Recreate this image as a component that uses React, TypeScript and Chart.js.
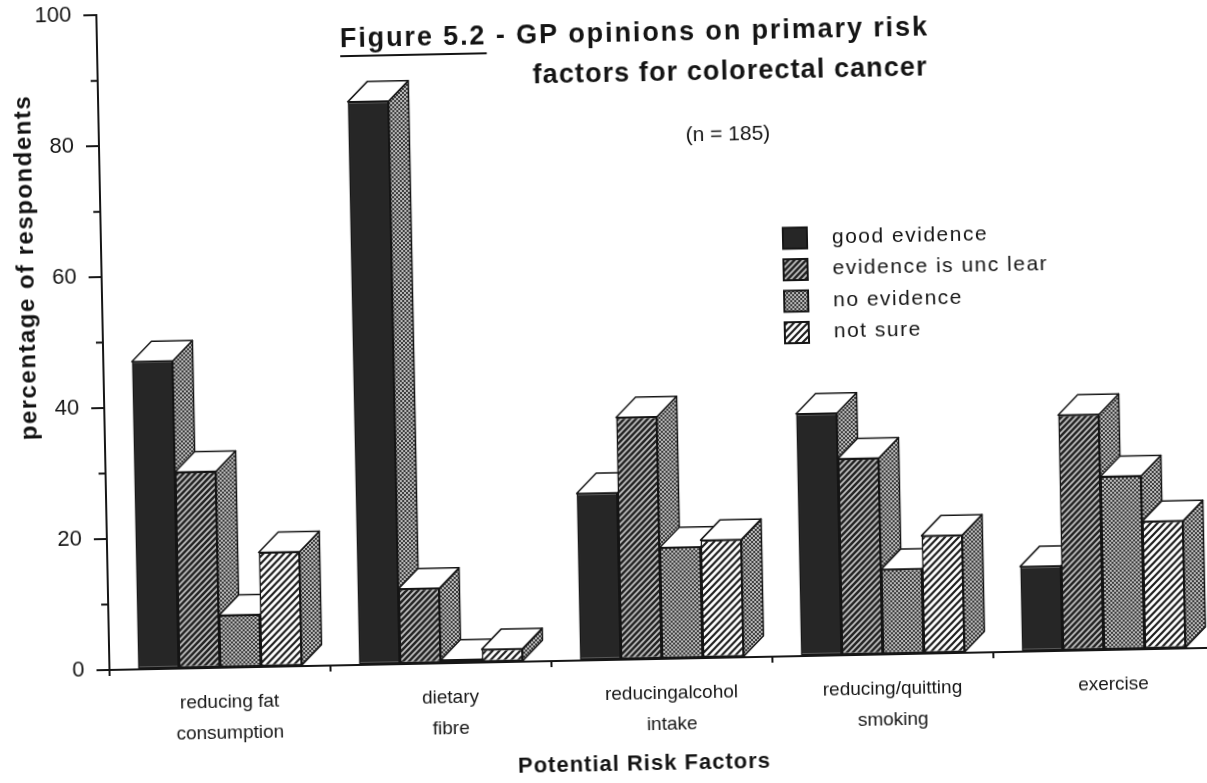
import React, { useEffect, useRef } from 'react';
import { Chart, registerables } from 'chart.js';

Chart.register(...registerables);

// ---------- data ----------
const CATEGORIES = [
  ['reducing fat', 'consumption'],
  ['dietary', 'fibre'],
  ['reducingalcohol', 'intake'],
  ['reducing/quitting', 'smoking'],
  ['exercise'],
];
const SERIES_NAMES = ['good evidence', 'evidence is unc lear', 'no evidence', 'not sure'];
const GOOD_EVIDENCE = [47, 86, 25.5, 37, 13];
const EVIDENCE_UNCLEAR = [30, 11.5, 37, 30, 36];
const NO_EVIDENCE = [8, 0.5, 17, 13, 26.5];
const NOT_SURE = [17.5, 2, 18, 18, 19.5];
const Y_MIN = 0;
const Y_MAX = 100;
const Y_STEP = 20;
const MINOR_TICKS = [10, 30, 50, 70, 90];
const TITLE_UNDERLINED = 'Figure 5.2';
const TITLE_LINE_1 = 'Figure 5.2 - GP opinions on primary risk';
const TITLE_LINE_2 = 'factors for colorectal cancer';
const SUBTITLE = '(n = 185)';
const X_TITLE = 'Potential Risk Factors';
const Y_TITLE = 'percentage of respondents';

// ---------- styles ----------
const FONT = "'Liberation Sans', Arial, Helvetica, sans-serif";
const INK = '#161616';
const DX = 20;
const DY = 20;
const W = 1247;
const H = 823;

function makePattern(kind: string): CanvasPattern | string {
  const c = document.createElement('canvas');
  const g = c.getContext('2d') as CanvasRenderingContext2D;
  if (kind === 'checker') {
    c.width = 4; c.height = 4;
    g.fillStyle = '#b8b8b8'; g.fillRect(0, 0, 4, 4);
    g.fillStyle = '#3e3e3e';
    g.fillRect(0, 0, 2, 2); g.fillRect(2, 2, 2, 2);
  } else if (kind === 'hatchDark') {
    const s = 6; c.width = s; c.height = s;
    g.fillStyle = '#242424'; g.fillRect(0, 0, s, s);
    g.strokeStyle = '#c2c2c2'; g.lineWidth = 1.7;
    g.beginPath();
    g.moveTo(-1, 1); g.lineTo(1, -1);
    g.moveTo(0, s); g.lineTo(s, 0);
    g.moveTo(s - 1, s + 1); g.lineTo(s + 1, s - 1);
    g.stroke();
  } else if (kind === 'hatchLight') {
    const s = 7; c.width = s; c.height = s;
    g.fillStyle = '#ffffff'; g.fillRect(0, 0, s, s);
    g.strokeStyle = '#1e1e1e'; g.lineWidth = 2.2;
    g.beginPath();
    g.moveTo(-1, 1); g.lineTo(1, -1);
    g.moveTo(0, s); g.lineTo(s, 0);
    g.moveTo(s - 1, s + 1); g.lineTo(s + 1, s - 1);
    g.stroke();
  } else {
    return '#262626';
  }
  const p = g.createPattern(c, 'repeat');
  return p || '#888';
}

export default function App() {
  const ref = useRef<HTMLCanvasElement>(null);

  useEffect(() => {
    const canvas = ref.current as HTMLCanvasElement;
    const fills = [
      makePattern('solid'),
      makePattern('hatchDark'),
      makePattern('checker'),
      makePattern('hatchLight'),
    ];
    const sideFill = makePattern('checker');

    const depthPlugin = {
      id: 'depth3d',
      beforeDatasetsDraw(chart: any) {
        const ctx = chart.ctx as CanvasRenderingContext2D;
        const n = chart.data.labels.length;
        ctx.save();
        ctx.lineWidth = 1.5;
        ctx.strokeStyle = INK;
        ctx.lineJoin = 'round';
        for (let i = 0; i < n; i++) {
          for (let d = 0; d < chart.data.datasets.length; d++) {
            const el = chart.getDatasetMeta(d).data[i];
            const { x, y, base, width } = el.getProps(['x', 'y', 'base', 'width'], true);
            const l = x - width / 2;
            const r = x + width / 2;
            // side face
            ctx.beginPath();
            ctx.moveTo(r, y);
            ctx.lineTo(r + DX, y - DY);
            ctx.lineTo(r + DX, base - DY);
            ctx.lineTo(r, base);
            ctx.closePath();
            ctx.fillStyle = sideFill as any;
            ctx.fill();
            ctx.stroke();
            // top face
            ctx.beginPath();
            ctx.moveTo(l, y);
            ctx.lineTo(l + DX, y - DY);
            ctx.lineTo(r + DX, y - DY);
            ctx.lineTo(r, y);
            ctx.closePath();
            ctx.fillStyle = '#ffffff';
            ctx.fill();
            ctx.stroke();
          }
        }
        ctx.restore();
      },
    };

    const textPlugin = {
      id: 'texts',
      afterDraw(chart: any) {
        const ctx = chart.ctx as CanvasRenderingContext2D;
        const ys = chart.scales.y;
        const area = chart.chartArea;
        ctx.save();
        // minor ticks
        ctx.strokeStyle = INK;
        ctx.lineWidth = 2;
        ctx.beginPath();
        MINOR_TICKS.forEach((v) => {
          const py = ys.getPixelForValue(v);
          ctx.moveTo(area.left - 7, py);
          ctx.lineTo(area.left, py);
        });
        ctx.stroke();

        ctx.fillStyle = '#141414';
        ctx.textBaseline = 'middle';
        // title
        ctx.textAlign = 'left';
        ctx.font = `bold 27px ${FONT}`;
        (ctx as any).letterSpacing = '1.9px';
        const t1x = 367;
        const t1y = 55;
        ctx.fillText(TITLE_LINE_1, t1x, t1y);
        const uw = ctx.measureText(TITLE_UNDERLINED).width;
        ctx.fillRect(t1x, t1y + 15, uw, 2);
        (ctx as any).letterSpacing = '1.1px';
        ctx.fillText(TITLE_LINE_2, 559, 95);

        // subtitle
        ctx.font = `21px ${FONT}`;
        (ctx as any).letterSpacing = '0px';
        ctx.textAlign = 'center';
        ctx.fillText(SUBTITLE, 753, 157);

        // legend
        ctx.textAlign = 'left';
        ctx.font = `21px ${FONT}`;
        (ctx as any).letterSpacing = '1.5px';
        SERIES_NAMES.forEach((name, k) => {
          const cy = 262 + k * 31.5;
          ctx.fillStyle = fills[k] as any;
          ctx.fillRect(806, cy - 10.5, 24, 21);
          ctx.strokeStyle = INK;
          ctx.lineWidth = 2;
          ctx.strokeRect(806, cy - 10.5, 24, 21);
          ctx.fillStyle = '#141414';
          ctx.fillText(name, 855, cy);
        });

        // x title
        ctx.textAlign = 'center';
        ctx.font = `bold 22px ${FONT}`;
        (ctx as any).letterSpacing = '1px';
        ctx.fillText(X_TITLE, 657, 785);

        // y title
        ctx.save();
        ctx.translate(49, 276);
        ctx.rotate(-Math.PI / 2);
        ctx.font = `bold 24px ${FONT}`;
        (ctx as any).letterSpacing = '1.5px';
        ctx.fillText(Y_TITLE, 0, 0);
        ctx.restore();
        ctx.restore();
      },
    };

    const seriesData = [GOOD_EVIDENCE, EVIDENCE_UNCLEAR, NO_EVIDENCE, NOT_SURE];

    const chart = new Chart(canvas, {
      type: 'bar',
      data: {
        labels: CATEGORIES as any,
        datasets: seriesData.map((data, k) => ({
          label: SERIES_NAMES[k],
          data,
          backgroundColor: fills[k] as any,
          borderColor: INK,
          borderWidth: 1.5,
          borderSkipped: false,
          categoryPercentage: 0.742,
          barPercentage: 1,
        })),
      },
      options: {
        responsive: false,
        animation: false,
        devicePixelRatio: 1,
        events: [],
        layout: { padding: { top: 24, right: 18, left: 0, bottom: 0 } },
        plugins: {
          legend: { display: false },
          title: { display: false },
          tooltip: { enabled: false },
        },
        scales: {
          x: {
            type: 'category',
            offset: true,
            grid: {
              offset: true,
              drawOnChartArea: false,
              drawTicks: true,
              tickLength: 6,
              color: INK,
              lineWidth: 2,
            },
            border: { display: true, color: INK, width: 2 },
            ticks: {
              color: '#161616',
              font: { family: FONT, size: 19, lineHeight: 1.6 },
              padding: 14,
              labelOffset: 9,
              maxRotation: 0,
              minRotation: 0,
              autoSkip: false,
            },
            afterFit: (s: any) => { s.height = 143; },
          },
          y: {
            min: Y_MIN,
            max: Y_MAX,
            ticks: {
              stepSize: Y_STEP,
              color: '#161616',
              font: { family: FONT, size: 22 },
              padding: 12,
            },
            grid: {
              drawOnChartArea: false,
              drawTicks: true,
              tickLength: 13,
              color: INK,
              lineWidth: 2,
            },
            border: { display: true, color: INK, width: 2 },
            afterFit: (s: any) => { s.width = 124; },
          },
        },
      },
      plugins: [depthPlugin, textPlugin],
    } as any);

    return () => chart.destroy();
  }, []);

  return (
    <div style={{ position: 'fixed', left: 0, top: 0, width: 1207, height: 783, overflow: 'hidden', background: '#ffffff' }}>
      <div
        style={{
          position: 'absolute',
          left: -20,
          top: -20,
          width: W,
          height: H,
          transform: 'rotate(-1.15deg)',
          transformOrigin: '50% 50%',
        }}
      >
        <canvas ref={ref} width={W} height={H} style={{ width: W, height: H, display: 'block' }} />
      </div>
    </div>
  );
}
